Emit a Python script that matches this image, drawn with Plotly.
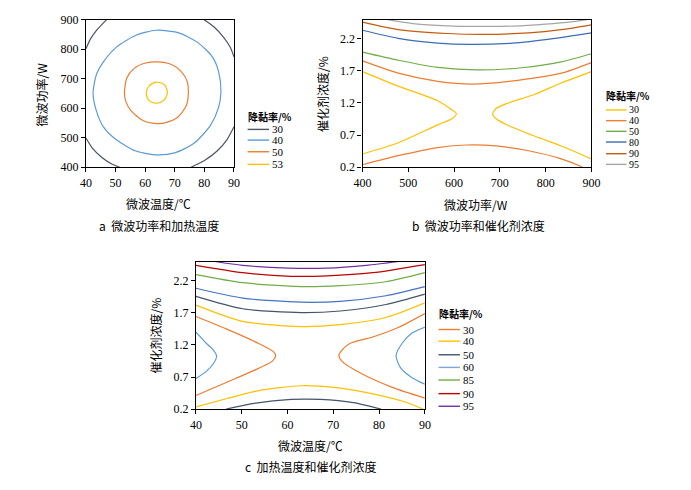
import plotly.graph_objects as go

# ---------------- data ----------------
# Panel a: x = 微波温度 (°C), y = 微波功率 (W)
a_levels = [30, 40, 50, 53]
a_colors = ["#4d5563", "#5B9BD5", "#ED7D31", "#FFC000"]
a30_tl = [(40, 801), (41.5, 834), (43.7, 865), (47.0, 900)]
a30_tr = [(79.9, 900), (83.2, 876), (86.5, 840), (88.7, 807), (90, 774)]
a30_bl = [(40, 499), (42.1, 466), (45.4, 433), (48.7, 411), (51.4, 400)]
a30_br = [(75.5, 400), (79.9, 422), (84.3, 455), (87.6, 493), (90, 537)]
a40 = [(42.4, 649), (43.5, 713), (45.9, 757), (50.3, 807), (56.9, 847), (63.7, 864),
       (71.1, 856), (77.7, 823), (82.7, 774), (84.8, 724), (85.6, 656), (84.8, 603),
       (82.1, 543), (76.6, 482), (70.0, 449), (64.0, 442), (56.9, 455), (50.3, 493),
       (45.9, 537), (43.5, 592), (42.4, 649)]
a50 = [(53.0, 653), (53.8, 702), (56.3, 735), (60.2, 753), (64.0, 757), (68.9, 748),
       (72.2, 724), (74.2, 691), (74.6, 656), (73.9, 609), (71.1, 570), (67.3, 552),
       (63.7, 548), (59.1, 559), (55.2, 592), (53.4, 625), (53.0, 653)]
a53 = [(60.4, 653), (61.0, 671), (62.6, 685), (64.3, 688), (66.5, 680), (67.5, 656),
       (66.9, 634), (65.3, 620), (63.5, 617), (61.5, 625), (60.6, 639), (60.4, 653)]

# Panel b: x = 微波功率 (W), y = 催化剂浓度 (%)
b_levels = [30, 40, 50, 80, 90, 95]
b_colors = ["#FFC000", "#ED7D31", "#70AD47", "#3A6DB5", "#C55A11", "#A5A5A5"]
b95 = [(455, 2.49), (520, 2.42), (600, 2.39), (660, 2.385), (730, 2.39), (800, 2.42),
       (860, 2.46), (890, 2.49)]
b90 = [(400, 2.45), (478, 2.335), (585, 2.275), (663, 2.26), (763, 2.285), (834, 2.335),
       (900, 2.41)]
b80 = [(400, 2.325), (478, 2.2), (564, 2.125), (635, 2.105), (727, 2.125), (820, 2.2),
       (900, 2.285)]
b50 = [(400, 1.985), (478, 1.86), (564, 1.75), (649, 1.71), (748, 1.744), (834, 1.834),
       (900, 1.96)]
b40_up = [(400, 1.85), (478, 1.66), (564, 1.533), (640, 1.49), (720, 1.533), (834, 1.66),
          (900, 1.824)]
b30_l = [(400, 1.684), (478, 1.458), (564, 1.233), (592, 1.107), (605, 1.032),
         (596, 0.957), (564, 0.857), (478, 0.581), (400, 0.406)]
b30_r = [(900, 1.684), (834, 1.508), (777, 1.333), (713, 1.183), (691, 1.107),
         (684, 1.022), (691, 0.957), (716, 0.857), (777, 0.681), (834, 0.531), (900, 0.33)]
b40_lo = [(400, 0.24), (478, 0.38), (564, 0.506), (628, 0.546), (692, 0.531),
          (763, 0.456), (834, 0.33), (876, 0.215), (880, 0.2)]

# Panel c: x = 微波温度 (°C), y = 催化剂浓度 (%)
c_levels = [30, 40, 50, 60, 85, 90, 95]
c_colors = ["#ED7D31", "#FFC000", "#44546A", "#7FA7DA", "#70AD47", "#C00000", "#7030A0"]
c95 = [(44.1, 2.5), (50.2, 2.44), (60.1, 2.397), (68.7, 2.397), (77.2, 2.44), (84.3, 2.5)]
c90 = [(40, 2.44), (50.2, 2.326), (60.8, 2.27), (68.7, 2.276), (78.6, 2.326), (90, 2.453)]
c85 = [(40, 2.296), (50.2, 2.17), (63.0, 2.109), (71.5, 2.124), (81.5, 2.185), (90, 2.326)]
c80 = [(40, 2.083), (50.2, 1.93), (63.0, 1.866), (71.5, 1.88), (81.5, 1.967), (90, 2.109)]
c50_up = [(40, 1.957), (50.2, 1.764), (63.0, 1.704), (71.5, 1.729), (81.5, 1.83), (90, 1.992)]
c40_up = [(40, 1.82), (50.2, 1.567), (63.0, 1.486), (71.5, 1.516), (81.5, 1.628), (90, 1.856)]
c30_l = [(40, 1.643), (46.6, 1.45), (53.7, 1.223), (56.9, 1.096), (57.4, 1.035),
         (56.6, 0.944), (52.3, 0.792), (46.6, 0.615), (40, 0.413)]
c30_r = [(90, 1.689), (84.3, 1.476), (78.6, 1.324), (73.6, 1.223), (71.9, 1.121),
         (71.2, 1.035), (71.9, 0.944), (75.8, 0.767), (82.9, 0.539), (90, 0.372)]
c60_l = [(40, 1.4), (42.3, 1.223), (43.8, 1.121), (44.5, 1.03), (43.9, 0.919),
         (42.3, 0.792), (40, 0.676)]
c60_r = [(90, 1.476), (87.2, 1.385), (85.0, 1.223), (83.7, 1.035), (84.7, 0.843),
         (87.2, 0.691), (90, 0.59)]
c40_lo = [(40, 0.235), (46.6, 0.362), (53.7, 0.489), (63.0, 0.565), (70.1, 0.539),
          (78.6, 0.438), (85.7, 0.311), (89.6, 0.2)]
c50_lo = [(46.6, 0.2), (52.3, 0.286), (60.8, 0.352), (67.2, 0.352), (74.4, 0.301), (80.4, 0.2)]

# tick labels
a_xticks = [40, 50, 60, 70, 80, 90]
a_yticks = [400, 500, 600, 700, 800, 900]
b_xticks = [400, 500, 600, 700, 800, 900]
conc_ticks = [0.2, 0.7, 1.2, 1.7, 2.2]
temp_ticks = [40, 50, 60, 70, 80, 90]

# ---------------- figure ----------------
W, H = 691, 490
SERIF = "Liberation Serif, Times New Roman, Noto Sans CJK SC"
CJK = "Noto Sans CJK SC, Liberation Serif"

fig = go.Figure()


def add_line(pts, color, xa, ya):
    fig.add_trace(go.Scatter(
        x=[p[0] for p in pts], y=[p[1] for p in pts], mode="lines",
        line=dict(color=color, width=1.2, shape="spline", smoothing=0.7),
        xaxis=xa, yaxis=ya, showlegend=False, hoverinfo="skip"))


# panel a
for seg in (a30_tl, a30_tr, a30_bl, a30_br):
    add_line(seg, a_colors[0], "x", "y")
add_line(a40, a_colors[1], "x", "y")
add_line(a50, a_colors[2], "x", "y")
add_line(a53, a_colors[3], "x", "y")

# panel b
add_line(b95, b_colors[5], "x2", "y2")
add_line(b90, b_colors[4], "x2", "y2")
add_line(b80, b_colors[3], "x2", "y2")
add_line(b50, b_colors[2], "x2", "y2")
add_line(b40_up, b_colors[1], "x2", "y2")
add_line(b40_lo, b_colors[1], "x2", "y2")
add_line(b30_l, b_colors[0], "x2", "y2")
add_line(b30_r, b_colors[0], "x2", "y2")

# panel c
add_line(c95, c_colors[6], "x3", "y3")
add_line(c90, c_colors[5], "x3", "y3")
add_line(c85, c_colors[4], "x3", "y3")
add_line(c80, "#4472C4", "x3", "y3")
add_line(c50_up, c_colors[2], "x3", "y3")
add_line(c50_lo, c_colors[2], "x3", "y3")
add_line(c40_up, c_colors[1], "x3", "y3")
add_line(c40_lo, c_colors[1], "x3", "y3")
add_line(c30_l, c_colors[0], "x3", "y3")
add_line(c30_r, c_colors[0], "x3", "y3")
add_line(c60_l, "#5B9BD5", "x3", "y3")
add_line(c60_r, "#5B9BD5", "x3", "y3")


def px_x(px):
    return px / W


def px_y(py):
    return 1 - py / H


axis_common = dict(showline=True, linecolor="black", linewidth=1.3, mirror=True,
                   ticks="outside", ticklen=4, tickcolor="black", showgrid=False,
                   zeroline=False, tickfont=dict(family=SERIF, size=12, color="black"))

fig.update_layout(
    width=W, height=H, margin=dict(l=0, r=0, t=0, b=0),
    paper_bgcolor="white", plot_bgcolor="white", showlegend=False,
    xaxis=dict(domain=[px_x(79), px_x(231)], range=[40, 90], tickvals=a_xticks,
               anchor="y", **axis_common),
    yaxis=dict(domain=[px_y(165), px_y(13)], range=[400, 900], tickvals=a_yticks,
               anchor="x", **axis_common),
    xaxis2=dict(domain=[px_x(363), px_x(598)], range=[400, 900], tickvals=b_xticks,
                anchor="y2", **axis_common),
    yaxis2=dict(domain=[px_y(165), px_y(13)], range=[0.2, 2.49], tickvals=conc_ticks,
                ticktext=[f"{v:.1f}" for v in conc_ticks], anchor="x2", **axis_common),
    xaxis3=dict(domain=[px_x(192), px_x(427)], range=[40, 90], tickvals=temp_ticks,
                anchor="y3", **axis_common),
    yaxis3=dict(domain=[px_y(414), px_y(262)], range=[0.2, 2.5], tickvals=conc_ticks,
                ticktext=[f"{v:.1f}" for v in conc_ticks], anchor="x3", **axis_common),
)

ann = []
shapes = []


def text(x, y, s, size=12, family=CJK, angle=0, xanchor="center", bold=False, pad=1):
    ann.append(dict(x=px_x(x), y=px_y(y), xref="paper", yref="paper",
                    text=(f"<b>{s}</b>" if bold else s), borderpad=pad,
                    showarrow=False, font=dict(family=family, size=size, color="black"),
                    textangle=angle, xanchor=xanchor, yanchor="middle"))


# axis titles and captions
text(154, 202, "微波温度/℃")
text(33, 90, "微波功率/W", angle=-90)
text(154, 225, "a  微波功率和加热温度")
text(480, 203, "微波功率/W")
text(322, 90, "催化剂浓度/%", angle=-90)
text(482, 225, "b  微波功率和催化剂浓度")
text(310, 451, "微波温度/℃")
text(150, 338, "催化剂浓度/%", angle=-90)
text(310, 473, "c  加热温度和催化剂浓度")


def legend(x0, x1, title_y, ys, levels, colors, size):
    text(x0 - 2, title_y, "降黏率/%", size=10, xanchor="left", bold=True)
    for yy, lv, col in zip(ys, levels, colors):
        shapes.append(dict(type="line", xref="paper", yref="paper",
                           x0=px_x(x0), x1=px_x(x1), y0=px_y(yy), y1=px_y(yy),
                           line=dict(color=col, width=1.4)))
        text(x1 + 2, yy, str(lv), size=size, family=SERIF, xanchor="left", pad=0)


legend(245, 267, 113, [126, 137, 149, 162], a_levels, a_colors, 11)
legend(613, 634, 91, [106, 117, 128, 139, 151, 162], b_levels, b_colors, 10)
legend(441, 463, 316, [332, 344, 358, 371, 384, 398, 411], c_levels, c_colors, 11)

fig.update_layout(annotations=ann, shapes=shapes)
fig.write_html("out.html", config={"displayModeBar": False},
               post_script="document.body.style.margin='0';")
